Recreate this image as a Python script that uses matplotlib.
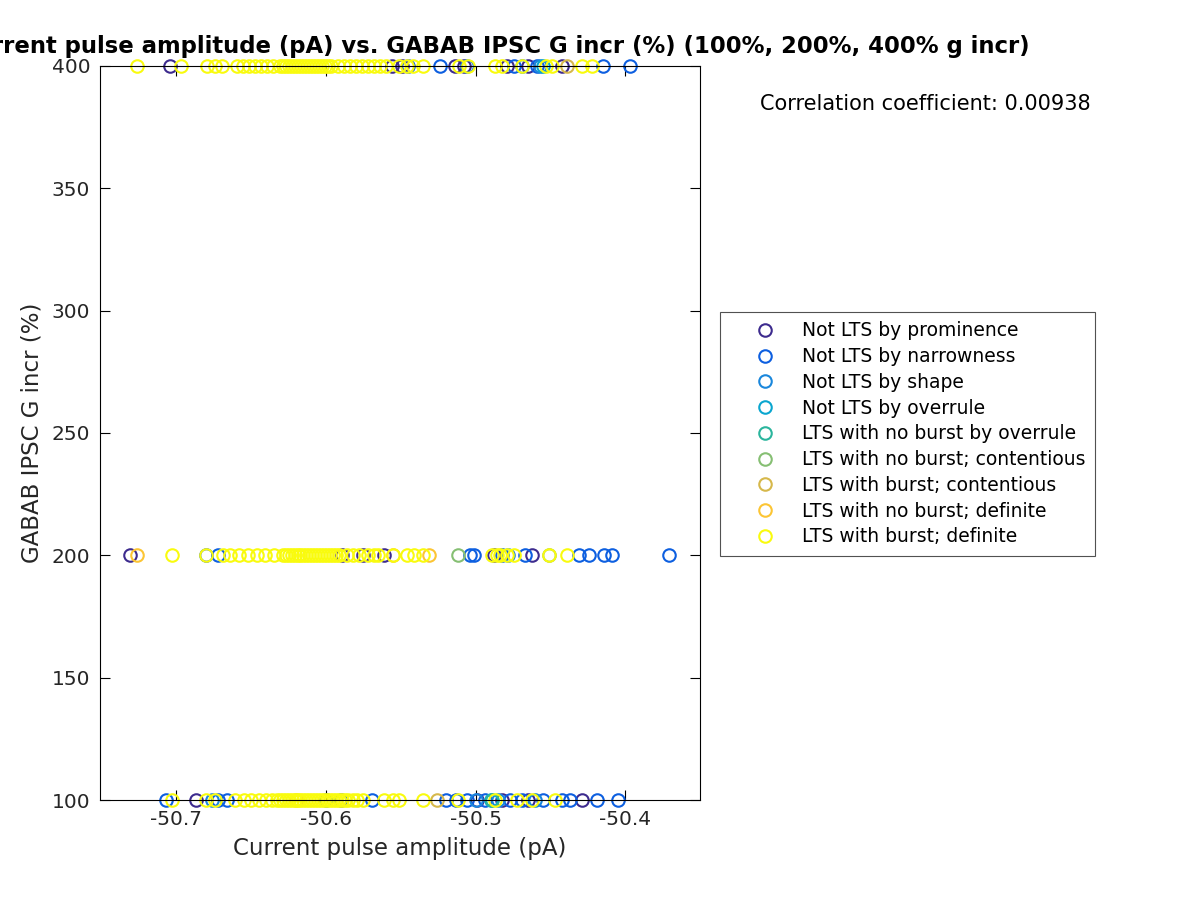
import matplotlib
matplotlib.use('Agg')
import matplotlib.pyplot as plt

plt.rcParams['axes.unicode_minus'] = False

# group labels and colours (parula-like)
labels = ['Not LTS by prominence', 'Not LTS by narrowness', 'Not LTS by shape',
          'Not LTS by overrule', 'LTS with no burst by overrule',
          'LTS with no burst; contentious', 'LTS with burst; contentious',
          'LTS with no burst; definite', 'LTS with burst; definite']
colors = ['#3d2b8e', '#0d5fe0', '#1a87dc', '#0aa6cf', '#2bb59d',
          '#86bf73', '#d6b84b', '#fcc534', '#f9fb0e']

# x values (current pulse amplitude) and y values (GABAB g incr) per group
prom_x = [-50.704, -50.556, -50.549, -50.514, -50.508, -50.479, -50.465, -50.442,
          -50.731, -50.589, -50.575, -50.561, -50.488, -50.462,
          -50.687, -50.499, -50.482, -50.465, -50.429]
prom_y = [400] * 8 + [200] * 6 + [100] * 5

narrow_x = [-50.545, -50.524, -50.474, -50.459, -50.415, -50.397,
            -50.680, -50.672, -50.504, -50.501, -50.482, -50.467, -50.431, -50.424,
            -50.414, -50.409, -50.371,
            -50.707, -50.672, -50.666, -50.600, -50.590, -50.569, -50.520, -50.513,
            -50.506, -50.494, -50.477, -50.469, -50.455, -50.442, -50.437, -50.419,
            -50.405]
narrow_y = [400] * 6 + [200] * 11 + [100] * 17

shape_x = [-50.506, -50.469, -50.457, -50.478, -50.676, -50.500, -50.485, -50.460]
shape_y = [400, 400, 400, 200, 100, 100, 100, 100]

over_x = [-50.455, -50.490]
over_y = [400, 100]

nb_over_x = [-50.489]
nb_over_y = [100]

nb_cont_x = [-50.512, -50.451]
nb_cont_y = [200, 200]

b_cont_x = [-50.439, -50.526]
b_cont_y = [400, 100]

nb_def_x = [-50.726, -50.531, -50.555, -50.620]
nb_def_y = [200, 200, 200, 100]

b_def_400 = [-50.726, -50.697, -50.6795, -50.674, -50.6695, -50.6595,
             -50.6553, -50.6513, -50.6473, -50.6433, -50.6393, -50.6353,
             -50.6307, -50.6287, -50.6267, -50.6247, -50.6227, -50.6207, -50.6187,
             -50.6167, -50.6147, -50.6127, -50.6107, -50.6087, -50.6067, -50.6047,
             -50.6027, -50.6007, -50.5987, -50.5967,
             -50.592, -50.588, -50.584, -50.580, -50.576, -50.572, -50.568, -50.564,
             -50.560, -50.551, -50.546, -50.542, -50.535, -50.511, -50.505, -50.487,
             -50.482, -50.469, -50.453, -50.449, -50.429, -50.422]
b_def_200 = [-50.703, -50.680, -50.669, -50.664, -50.658, -50.652, -50.646, -50.641,
             -50.635, -50.629, -50.627, -50.625, -50.623, -50.621, -50.619, -50.617,
             -50.615, -50.613, -50.611, -50.609, -50.607, -50.605, -50.603, -50.601,
             -50.599, -50.597, -50.595, -50.593, -50.591, -50.586, -50.582, -50.578,
             -50.572, -50.568, -50.565, -50.555, -50.546, -50.541, -50.535, -50.489,
             -50.486, -50.484, -50.479, -50.474, -50.451, -50.439]
b_def_100 = [-50.703, -50.680, -50.674, -50.661, -50.655, -50.650, -50.645, -50.640,
             -50.636, -50.633, -50.631, -50.629, -50.627, -50.625, -50.623, -50.621,
             -50.619, -50.617, -50.615, -50.613, -50.611, -50.609, -50.607, -50.605,
             -50.603, -50.601, -50.599, -50.597, -50.595, -50.593, -50.591, -50.589,
             -50.587, -50.585, -50.582, -50.579, -50.575, -50.561, -50.555, -50.551,
             -50.535, -50.512, -50.487, -50.472, -50.462, -50.447]
b_def_x = b_def_400 + b_def_200 + b_def_100
b_def_y = [400] * len(b_def_400) + [200] * len(b_def_200) + [100] * len(b_def_100)

groups = [(prom_x, prom_y), (narrow_x, narrow_y), (shape_x, shape_y),
          (over_x, over_y), (nb_over_x, nb_over_y), (nb_cont_x, nb_cont_y),
          (b_cont_x, b_cont_y), (nb_def_x, nb_def_y), (b_def_x, b_def_y)]

corr = 0.00938
title = 'Current pulse amplitude (pA) vs. GABAB IPSC G incr (%) (100%, 200%, 400% g incr)'

fig = plt.figure(figsize=(12, 9), dpi=100)
ax = fig.add_axes([100/1200, 100/900, 600/1200, 734/900])

for (gx, gy), lab, c in zip(groups, labels, colors):
    ax.plot(gx, gy, 'o', mfc='none', mec=c, ms=9, mew=1.5, label=lab, clip_on=False)

ax.set_xlim(-50.751, -50.35)
ax.set_ylim(100, 400)
ax.set_xticks([-50.7, -50.6, -50.5, -50.4])
ax.set_yticks([100, 150, 200, 250, 300, 350, 400])
ax.tick_params(direction='in', top=True, right=True, labelsize=14.5,
               labelcolor='#262626', length=7, pad=7)
for s in ax.spines.values():
    s.set_linewidth(0.8)
ax.set_xlabel('Current pulse amplitude (pA)', fontsize=16.5, color='#262626',
              labelpad=6)
ax.set_ylabel('GABAB IPSC G incr (%)', fontsize=16.5, color='#262626',
              labelpad=6)

# title is wider than the figure on the left, as in the original
fig.text(494/1200, 1 - 47/900, title, ha='center', va='center',
         fontsize=16.4, fontweight='bold')
fig.text(925/1200, 1 - 104/900, 'Correlation coefficient: %g' % corr,
         ha='center', va='center', fontsize=15)

leg = fig.legend(loc='upper left', bbox_to_anchor=(720/1200, 1 - 312/900),
                 fontsize=13.5, frameon=True, fancybox=False, edgecolor='#262626',
                 labelspacing=0.36, handlelength=3.8, handletextpad=0.1,
                 borderpad=0.5, borderaxespad=0)
leg.get_frame().set_linewidth(0.8)

fig.savefig('out.png', dpi=100)
